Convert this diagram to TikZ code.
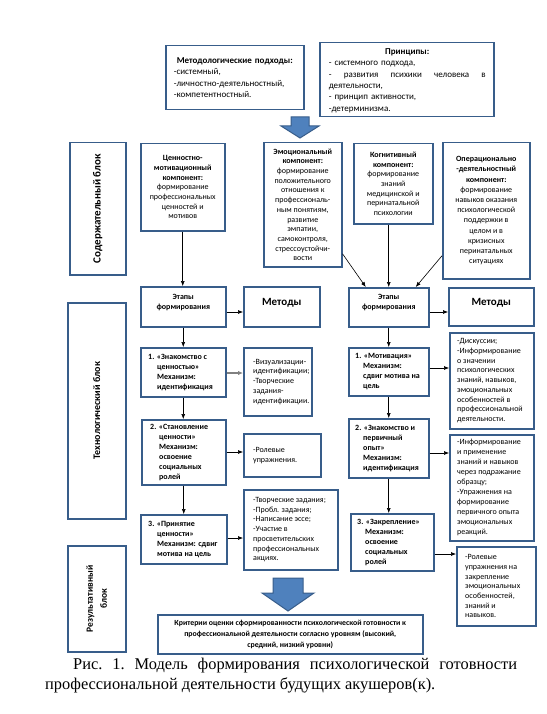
\documentclass[tikz,border=0pt]{standalone}
\usepackage{fontspec}
\setmainfont{Carlito}
\newfontfamily\capfont{Liberation Serif}
\usetikzlibrary{arrows.meta}
\definecolor{bc}{HTML}{385D8A}
\definecolor{af}{HTML}{4F81BD}
\begin{document}
\begin{tikzpicture}[x=1pt,y=-1pt,
  box/.style={draw=bc, line width=1.5pt, fill=white, inner sep=0pt, anchor=north west},
  reg/.style={font=\fontsize{8}{9.7}\selectfont, inner sep=0pt},
  bld/.style={font=\bfseries\fontsize{8}{10}\selectfont, inner sep=0pt},
  big/.style={font=\fontsize{9}{11.3}\selectfont, inner sep=0pt},
  side/.style={font=\bfseries\fontsize{10}{12}\selectfont, rotate=90, inner sep=0pt, align=center},
  mth/.style={font=\bfseries\fontsize{11}{13}\selectfont, inner sep=0pt},
  arr/.style={-{Latex[length=5pt,width=4pt]}, line width=0.6pt, black},
  garr/.style={-{Latex[length=5pt,width=4.5pt]}, line width=1.3pt, black!50},
  barrow/.style={draw=bc, fill=af, line width=1pt, line join=miter}
 ]
\useasboundingbox (0,0) rectangle (546,714);

% top boxes
\node[box, minimum width=138, minimum height=64] (meth) at (165,45) {};
\node[big, align=left, text width=122pt] (metht) at ([xshift=0pt]meth.center)
 {\makebox[122pt]{\textbf{Методологические подходы:}}\\-системный,\\-личностно-деятельностный,\\-компетентностный.};
\node[box, minimum width=174, minimum height=74] (princ) at (319,42) {};
\node[big, align=left, text width=157pt] (princt) at ([xshift=0.5pt,yshift=-1pt]princ.center)
 {\makebox[157pt]{\textbf{Принципы:}}\\- системного подхода,\\\leavevmode\hbox to 157pt{-\hfill развития\hfill психики\hfill человека\hfill в}\\деятельности,\\- принцип активности,\\-детерминизма.};

% big arrow top
\draw[barrow] (291,117) -- (309,117) -- (309,126) -- (319,126) -- (300,138) -- (281,126) -- (291,126) -- cycle;

% side blocks
\node[box, minimum width=56, minimum height=132] (sod) at (69,142) {};
\node[side, font=\bfseries\fontsize{11}{13}\selectfont] (sodt) at (sod.center) {Содержательный блок};
\node[box, minimum width=58, minimum height=216] (tech) at (67,302) {};
\node[side] (techt) at (tech.center) {Технологический блок};
\node[box, minimum width=58, minimum height=106] (res) at (67,545) {};
\node[side, font=\bfseries\fontsize{9.5}{14}\selectfont] (rest) at (res.center) {Результативный\\блок};

% components
\node[box, minimum width=84, minimum height=87, reg, align=center] (c1) at (140,143)
 {\textbf{Ценностно-}\\\textbf{мотивационный}\\\textbf{компонент:}\\формирование\\профессиональных\\ценностей и\\мотивов};
\node[box, minimum width=78, minimum height=124, reg, align=center] (c2) at (263,142)
 {\textbf{Эмоциональный}\\\textbf{компонент:}\\формирование\\положительного\\отношения к\\профессиональ-\\ным понятиям,\\развитие\\эмпатии,\\самоконтроля,\\стрессоустойчи-\\вости};
\node[box, minimum width=79, minimum height=80, reg, align=center] (c3) at (353,143)
 {\textbf{Когнитивный}\\\textbf{компонент:}\\формирование\\знаний\\медицинской и\\перинатальной\\психологии};
\node[box, minimum width=87, minimum height=136, reg, align=center, font=\fontsize{8}{10.2}\selectfont] (c4) at (442,142)
 {\textbf{Операционально}\\\textbf{-деятельностный}\\\textbf{компонент:}\\формирование\\навыков оказания\\психологической\\поддержки в\\целом и в\\кризисных\\перинатальных\\ситуациях};

% stages header
\node[box, minimum width=85, minimum height=40, bld, align=center] (etL) at (140,286) {Этапы\\формирования\\\mbox{}};
\node[box, minimum width=76, minimum height=40, mth, align=center] (mtL) at (243,286) {Методы\\[-3pt]\mbox{}};
\node[box, minimum width=80, minimum height=39, bld, align=center] (etR) at (348,287) {Этапы\\формирования\\\mbox{}};
\node[box, minimum width=85, minimum height=38, mth, align=center] (mtR) at (448,287) {Методы\\[-3pt]\mbox{}};

% left stages
\node[box, minimum width=85, minimum height=49] (sL1) at (140,347) {};
\node[bld, align=left, anchor=west] (sL1t) at ([xshift=8pt]sL1.west)
 {1. «Знакомство с\\\hspace*{9pt}ценностью»\\\hspace*{9pt}Механизм:\\\hspace*{9pt}идентификация};
\node[box, minimum width=84, minimum height=65] (sL2) at (141,419) {};
\node[bld, align=left, anchor=west] (sL2t) at ([xshift=9pt]sL2.west)
 {2. «Становление\\\hspace*{9pt}ценности»\\\hspace*{9pt}Механизм:\\\hspace*{9pt}освоение\\\hspace*{9pt}социальных\\\hspace*{9pt}ролей};
\node[box, minimum width=86, minimum height=49] (sL3) at (140,514) {};
\node[bld, align=left, anchor=west] (sL3t) at ([xshift=8pt]sL3.west)
 {3. «Принятие\\\hspace*{9pt}ценности»\\\hspace*{9pt}Механизм: сдвиг\\\hspace*{9pt}мотива на цель};

% left methods
\node[box, minimum width=68, minimum height=68] (mL1) at (243,347) {};
\node[reg, align=left, anchor=west] (mL1t) at ([xshift=10pt]mL1.west)
 {-Визуализации-\\идентификации;\\-Творческие\\задания-\\идентификации.};
\node[box, minimum width=77, minimum height=43] (mL2) at (243,433) {};
\node[reg, align=left, anchor=west] (mL2t) at ([xshift=10pt]mL2.west)
 {-Ролевые\\упражнения.};
\node[box, minimum width=94, minimum height=80] (mL3) at (243,489) {};
\node[reg, align=left, anchor=west] (mL3t) at ([xshift=10pt]mL3.west)
 {-Творческие задания;\\-Пробл. задания;\\-Написание эссе;\\-Участие в\\просветительских\\профессиональных\\акциях.};

% right stages
\node[box, minimum width=80, minimum height=48] (sR1) at (348,347) {};
\node[bld, align=left, anchor=west] (sR1t) at ([xshift=7pt]sR1.west)
 {1. «Мотивация»\\\hspace*{8pt}Механизм:\\\hspace*{8pt}сдвиг мотива на\\\hspace*{8pt}цель};
\node[box, minimum width=80, minimum height=59] (sR2) at (348,418) {};
\node[bld, align=left, anchor=west] (sR2t) at ([xshift=7pt]sR2.west)
 {2. «Знакомство и\\\hspace*{8pt}первичный\\\hspace*{8pt}опыт»\\\hspace*{8pt}Механизм:\\\hspace*{8pt}идентификация};
\node[box, minimum width=83, minimum height=57] (sR3) at (350,513) {};
\node[bld, align=left, anchor=west] (sR3t) at ([xshift=7pt]sR3.west)
 {3. «Закрепление»\\\hspace*{8pt}Механизм:\\\hspace*{8pt}освоение\\\hspace*{8pt}социальных\\\hspace*{8pt}ролей};

% right methods
\node[box, minimum width=84, minimum height=96] (mR1) at (449,332) {};
\node[reg, align=left, anchor=west] (mR1t) at ([xshift=8pt]mR1.west)
 {-Дискуссии;\\-Информирование\\о значении\\психологических\\знаний, навыков,\\эмоциональных\\особенностей в\\профессиональной\\деятельности.};
\node[box, minimum width=84, minimum height=106] (mR2) at (449,434) {};
\node[reg, align=left, anchor=west, font=\fontsize{8}{10}\selectfont] (mR2t) at ([xshift=8pt]mR2.west)
 {-Информирование\\и применение\\знаний и навыков\\через подражание\\образцу;\\-Упражнения на\\формирование\\первичного опыта\\эмоциональных\\реакций.};
\node[box, minimum width=79, minimum height=79] (mR3) at (456,546) {};
\node[reg, align=left, anchor=west] (mR3t) at ([xshift=9pt]mR3.west)
 {-Ролевые\\упражнения на\\закрепление\\эмоциональных\\особенностей,\\знаний и\\навыков.};

% bottom arrow and criteria
\draw[barrow] (273,578) -- (303,578) -- (303,593) -- (314,593) -- (288,611) -- (262,593) -- (273,593) -- cycle;
\node[box, minimum width=265, minimum height=39, align=center, font=\bfseries\fontsize{7.8}{11}\selectfont] (crit) at (157,614)
 {Критерии оценки сформированности психологической готовности к\\профессиональной деятельности согласно уровням (высокий,\\средний, низкий уровни)};

% connectors
\draw[arr] (c1.south) -- (c1.south |- etL.north);
\draw[arr] ([yshift=-49pt]c2.east) -- ([xshift=-23pt]etR.north);
\draw[arr] (c3.south -| etR.north) -- (etR.north);
\draw[arr] ([yshift=-45pt]c4.west) -- ([xshift=27pt]etR.north);

\draw[arr] (etL.east |- 0,312) -- (mtL.west |- 0,312);
\draw[arr] (etL.south) -- (etL.south |- sL1.north);
\draw[garr] (sL1.east |- 0,373) -- (mL1.west |- 0,373);
\draw[arr] (sL1.south) -- (sL1.south |- sL2.north);
\draw[arr] (sL2.east |- 0,452) -- (mL2.west |- 0,452);
\draw[arr] (sL2.south) -- (sL2.south |- sL3.north);
\draw[arr] (sL3.east |- 0,538) -- (mL3.west |- 0,538);

\draw[arr] (etR.east |- 0,312) -- (mtR.west |- 0,312);
\draw[arr] (etR.south) -- (etR.south |- sR1.north);
\draw[arr] (sR1.east |- 0,368) -- (mR1.west |- 0,368);
\draw[arr] (sR1.south) -- (sR1.south |- sR2.north);
\draw[arr] (sR2.east |- 0,453) -- (mR2.west |- 0,453);
\draw[arr] (sR2.south) -- (sR2.south |- sR3.north);
\draw[arr] (sR3.east |- 0,554) -- (mR3.west |- 0,554);

% caption
\node[anchor=base west, inner sep=0pt, font=\capfont\fontsize{16.4}{19}\selectfont] (cap1) at (73,669)
 {\hbox to 444pt{Рис.\hfill 1.\hfill Модель\hfill формирования\hfill психологической\hfill готовности}};
\node[anchor=base west, inner sep=0pt, font=\capfont\fontsize{16.4}{19}\selectfont] (cap2) at (45,689)
 {профессиональной деятельности будущих акушеров(к).};
\end{tikzpicture}
\end{document}
